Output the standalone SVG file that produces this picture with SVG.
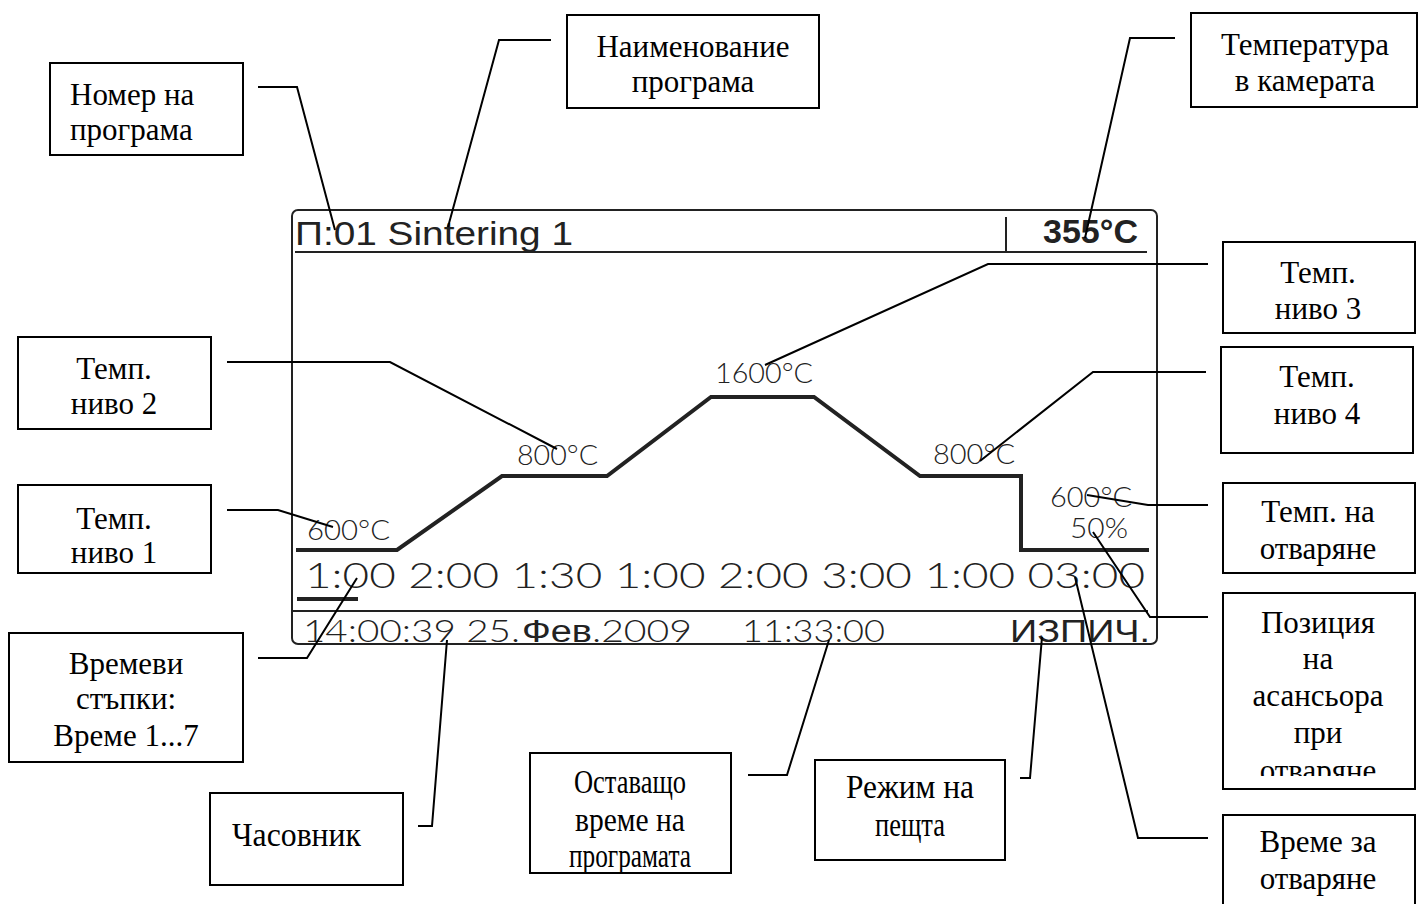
<svg xmlns="http://www.w3.org/2000/svg" width="1418" height="904" viewBox="0 0 1418 904">
<style>
.box{fill:#fff;stroke:#000;stroke-width:2}
.lbl{font-family:"Liberation Serif","Times New Roman",serif;font-size:31px;fill:#000;text-anchor:middle}
.lbl-l{font-family:"Liberation Serif","Times New Roman",serif;font-size:31px;fill:#000}
.cond{font-size:34px}
.conn{fill:none;stroke:#000;stroke-width:2}
.disp{fill:none;stroke:#222;stroke-width:2}
.thin{font-family:Lato,"Open Sans","Liberation Sans",sans-serif;font-weight:300;fill:#222}
.sans{font-family:"Liberation Sans",Arial,sans-serif;fill:#222}
</style>
<defs>
<clipPath id="clip7"><rect x="1223" y="593" width="192" height="183"/></clipPath>
</defs>
<rect width="1418" height="904" fill="#fff"/>

<g id="display">
<rect class="disp" x="292" y="210" width="865" height="434" rx="6"/>
<line class="disp" x1="295" y1="252" x2="1147" y2="252"/>
<line class="disp" x1="1006" y1="217" x2="1006" y2="252"/>
<line class="disp" x1="293" y1="611" x2="1148" y2="611"/>
<line x1="297" y1="599" x2="358" y2="599" stroke="#222" stroke-width="4"/>
<polyline points="296,550 397,550 502,476 607,476 711,397 814,397 920,476 1021,476 1021,550 1149,550" fill="none" stroke="#222" stroke-width="4"/>
<text class="sans" x="295" y="245" font-size="33" textLength="278" lengthAdjust="spacingAndGlyphs">П:01 Sintering 1</text>
<text class="sans" x="1043" y="243" font-size="33" font-weight="bold" textLength="95" lengthAdjust="spacingAndGlyphs">355°C</text>
<text class="thin" x="307" y="540" font-size="28" textLength="83" lengthAdjust="spacingAndGlyphs">600°C</text>
<text class="thin" x="517" y="465" font-size="28" textLength="81" lengthAdjust="spacingAndGlyphs">800°C</text>
<text class="thin" x="715" y="383" font-size="28" textLength="98" lengthAdjust="spacingAndGlyphs">1600°C</text>
<text class="thin" x="933" y="464" font-size="28" textLength="82" lengthAdjust="spacingAndGlyphs">800°C</text>
<text class="thin" x="1050" y="507" font-size="28" textLength="82" lengthAdjust="spacingAndGlyphs">600°C</text>
<text class="thin" x="1070" y="538" font-size="28" textLength="58" lengthAdjust="spacingAndGlyphs">50%</text>
<text class="thin" x="305" y="588" font-size="36" textLength="840" lengthAdjust="spacingAndGlyphs">1:00 2:00 1:30 1:00 2:00 3:00 1:00 03:00</text>
<text class="thin" x="303" y="642" font-size="32" textLength="217" lengthAdjust="spacingAndGlyphs">14:00:39 25.</text>
<text class="sans" x="522" y="642" font-size="31" textLength="70" lengthAdjust="spacingAndGlyphs">Фев</text>
<text class="thin" x="592" y="642" font-size="32" textLength="100" lengthAdjust="spacingAndGlyphs">.2009</text>
<text class="thin" x="742" y="642" font-size="32" textLength="143" lengthAdjust="spacingAndGlyphs">11:33:00</text>
<text class="sans" x="1010" y="642" font-size="31" textLength="140" lengthAdjust="spacingAndGlyphs">ИЗПИЧ.</text>
</g>

<g id="connectors">
<polyline class="conn" points="258,87 297,87 335,230"/>
<polyline class="conn" points="551,40 499,40 448,227"/>
<polyline class="conn" points="1175,38 1130,38 1085,238"/>
<polyline class="conn" points="1208,264 988,264 765,365"/>
<polyline class="conn" points="1206,372 1093,372 980,461"/>
<polyline class="conn" points="1208,505 1148,505 1087,495"/>
<polyline class="conn" points="1208,617 1150,617 1093,532"/>
<polyline class="conn" points="1208,838 1138,838 1075,577"/>
<polyline class="conn" points="227,362 390,362 557,449"/>
<polyline class="conn" points="227,510 278,510 333,527"/>
<polyline class="conn" points="258,658 307,658 357,578"/>
<polyline class="conn" points="418,826 432,826 447,640"/>
<polyline class="conn" points="748,775 787,775 829,640"/>
<polyline class="conn" points="1020,778 1030,778 1042,637"/>
</g>

<g id="n-program-number">
<rect class="box" x="50" y="63" width="193" height="92"/>
<text class="lbl-l" x="70" y="105">Номер на</text>
<text class="lbl-l" x="70" y="140">програма</text>
</g>
<g id="n-program-name">
<rect class="box" x="567" y="15" width="252" height="93"/>
<text class="lbl" x="693" y="57">Наименование</text>
<text class="lbl" x="693" y="92">програма</text>
</g>
<g id="n-chamber-temp">
<rect class="box" x="1191" y="13" width="226" height="94"/>
<text class="lbl" x="1305" y="55">Температура</text>
<text class="lbl" x="1305" y="91">в камерата</text>
</g>
<g id="n-level3">
<rect class="box" x="1223" y="242" width="192" height="91"/>
<text class="lbl" x="1318" y="283">Темп.</text>
<text class="lbl" x="1318" y="319">ниво 3</text>
</g>
<g id="n-level4">
<rect class="box" x="1221" y="347" width="192" height="106"/>
<text class="lbl" x="1317" y="387">Темп.</text>
<text class="lbl" x="1317" y="424">ниво 4</text>
</g>
<g id="n-open-temp">
<rect class="box" x="1223" y="483" width="192" height="90"/>
<text class="lbl" x="1318" y="522">Темп. на</text>
<text class="lbl" x="1318" y="559">отваряне</text>
</g>
<g id="n-lift-pos">
<rect class="box" x="1223" y="593" width="192" height="196"/>
<g clip-path="url(#clip7)">
<text class="lbl" x="1318" y="633">Позиция</text>
<text class="lbl" x="1318" y="669">на</text>
<text class="lbl" x="1318" y="706">асансьора</text>
<text class="lbl" x="1318" y="743">при</text>
<text class="lbl" x="1318" y="781">отваряне</text>
</g>
</g>
<g id="n-open-time">
<rect class="box" x="1223" y="815" width="192" height="100"/>
<text class="lbl" x="1318" y="852">Време за</text>
<text class="lbl" x="1318" y="889">отваряне</text>
</g>
<g id="n-level2">
<rect class="box" x="18" y="337" width="193" height="92"/>
<text class="lbl" x="114" y="379">Темп.</text>
<text class="lbl" x="114" y="414">ниво 2</text>
</g>
<g id="n-level1">
<rect class="box" x="18" y="485" width="193" height="88"/>
<text class="lbl" x="114" y="529">Темп.</text>
<text class="lbl" x="114" y="563">ниво 1</text>
</g>
<g id="n-time-steps">
<rect class="box" x="9" y="633" width="234" height="129"/>
<text class="lbl" x="126" y="674">Времеви</text>
<text class="lbl" x="126" y="709">стъпки:</text>
<text class="lbl" x="126" y="746">Време 1...7</text>
</g>
<g id="n-clock">
<rect class="box" x="210" y="793" width="193" height="92"/>
<text class="lbl-l cond" x="232" y="846" textLength="129" lengthAdjust="spacingAndGlyphs">Часовник</text>
</g>
<g id="n-remaining">
<rect class="box" x="530" y="753" width="201" height="120"/>
<text class="lbl cond" x="630" y="793" textLength="112" lengthAdjust="spacingAndGlyphs">Оставащо</text>
<text class="lbl cond" x="630" y="831" textLength="110" lengthAdjust="spacingAndGlyphs">време на</text>
<text class="lbl cond" x="630" y="867" textLength="122" lengthAdjust="spacingAndGlyphs">програмата</text>
</g>
<g id="n-mode">
<rect class="box" x="815" y="760" width="190" height="100"/>
<text class="lbl cond" x="910" y="798" textLength="128" lengthAdjust="spacingAndGlyphs">Режим на</text>
<text class="lbl cond" x="910" y="836" textLength="70" lengthAdjust="spacingAndGlyphs">пещта</text>
</g>
</svg>
